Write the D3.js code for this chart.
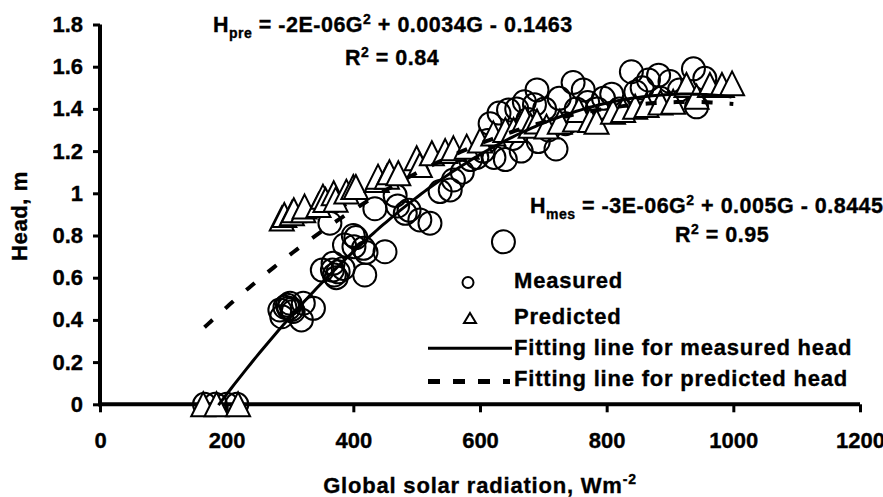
<!DOCTYPE html>
<html><head><meta charset="utf-8">
<script src="https://cdn.jsdelivr.net/npm/d3@7"></script>
<style>
body{margin:0;background:#fff}
text{font-family:"Liberation Sans",Arial,sans-serif;font-weight:bold;fill:#000;stroke:#000;stroke-width:0.35px}
</style>
</head><body><svg id="c" width="883" height="497"></svg>
<script>
// ---- data ----
const measuredRadiation=[165,182,200,216,
 284,287,292,296,298,300,303,305,318,321,337,
 351,363,367,368,370,373,376,384,386,400,401,404,416,418,420,450,
 434,466,470,482,488,505,521,537,553,558,572,585,
 595,605,612,616,622,630,637,640,645,652,658,665,670,676,686,690,692,702,708,720,725,735,747,752,763,770,785,795,808,820,839,846,856,866,882,885,900,915,937,942,955];
const measuredHead=[0,0,0,0,
 0.447,0.415,0.46,0.47,0.455,0.479,0.45,0.44,0.40,0.479,0.455,
 0.636,0.858,0.636,0.668,0.613,0.60,0.628,0.644,0.755,0.80,0.747,0.79,0.739,0.613,0.72,0.723,
 0.927,0.99,0.94,0.905,0.92,0.874,0.858,1.008,1.016,1.063,1.10,1.16,
 1.17,1.20,1.25,1.33,1.17,1.38,0.77,1.16,1.395,1.26,1.40,1.20,1.434,1.35,1.42,1.49,1.245,1.40,1.30,1.21,1.45,1.33,1.525,1.40,1.49,1.43,1.40,1.45,1.47,1.40,1.576,1.48,1.50,1.537,1.56,1.45,1.53,1.49,1.59,1.41,1.545];
const predictedRadiation=[163,184,218,
 287,291,303,306,321,323,345,352,356,369,372,389,400,404,437,439,453,457,471,500,505,524,545,558,579,600,621,640,653,671,680,690,705,726,750,756,774,784,810,826,845,863,885,905,926,942,963,982,998];
const predictedHead=[0,0,0,
 0.88,0.897,0.905,0.92,0.92,0.937,0.944,0.984,0.968,1.0,0.97,1.008,1.03,1.03,1.063,1.079,1.079,1.10,1.095,1.166,1.134,1.19,1.20,1.213,1.221,1.25,1.284,1.30,1.30,1.355,1.32,1.34,1.316,1.339,1.35,1.395,1.347,1.339,1.387,1.395,1.41,1.418,1.43,1.434,1.513,1.458,1.513,1.513,1.521];
const xTicks=[0,200,400,600,800,1000,1200];
const xTickLabels=["0","200","400","600","800","1000","1200"];
const yTicks=[0,0.2,0.4,0.6,0.8,1.0,1.2,1.4,1.6,1.8];
const yTickLabels=["0","0.2","0.4","0.6","0.8","1","1.2","1.4","1.6","1.8"];
// trend-line coefficients [a,b,c] for H = aG^2 + bG + c and the G range drawn
const fitMeasuredCoef=[-2.7e-6,0.005,-0.8445];
const fitMeasuredRange=[187,1000];
const fitPredictedCoef=[-1.83e-6,0.0034,-0.1463];
const fitPredictedRange=[165,1000];
const legendLabels=["Measured","Predicted","Fitting line for measured head","Fitting line for predicted head"];

// ---- drawing ----
const svg=d3.select("#c");
const x=d3.scaleLinear().domain([0,1200]).range([100,860]);
const y=d3.scaleLinear().domain([0,1.8]).range([404.3,24.5]);

// axes
const xAxis=d3.axisBottom(x).tickValues(xTicks).tickFormat((d,i)=>xTickLabels[i]).tickSize(8).tickSizeOuter(0).tickPadding(20);
const yAxis=d3.axisLeft(y).tickValues(yTicks).tickFormat((d,i)=>yTickLabels[i]).tickSize(7).tickSizeOuter(0).tickPadding(10);
const gx=svg.append("g").attr("transform",`translate(0,${y(0)})`).call(xAxis);
const gy=svg.append("g").attr("transform",`translate(${x(0)},0)`).call(yAxis);
[gx,gy].forEach(g=>{
  g.select(".domain").attr("stroke","#000").attr("stroke-width",4);
  g.selectAll(".tick line").attr("stroke","#000").attr("stroke-width",3);
  g.selectAll(".tick text").attr("font-size",22).attr("font-family","Liberation Sans, Arial, sans-serif")
    .attr("font-weight","bold").attr("fill","#000").attr("stroke","#000").attr("stroke-width",0.35);
});
gx.selectAll(".tick text").attr("dy",null).attr("y",null).attr("transform","translate(0,44)");
gx.select(".domain").attr("d",`M${x(0)-2},0H${x(1200)}`);
gy.select(".domain").attr("d",`M0,${y(1.8)}V${y(0)+2}`);

// measured circles
const measured=measuredRadiation.map((g,i)=>({g,h:measuredHead[i]}));
const predicted=predictedRadiation.map((g,i)=>({g,h:predictedHead[i]}));
svg.append("g").selectAll("circle").data(measured).join("circle")
  .attr("cx",d=>x(d.g)).attr("cy",d=>y(d.h)).attr("r",11.5)
  .attr("fill","none").attr("stroke","#000").attr("stroke-width",2);

// predicted triangles
const tw=24,th=24;
const triPath=(w,h)=>`M0,${-h/2}L${w/2},${h/2}L${-w/2},${h/2}Z`;
svg.append("g").selectAll("path").data(predicted).join("path")
  .attr("d",triPath(tw,th)).attr("transform",d=>`translate(${x(d.g)},${y(d.h)})`)
  .attr("fill","#fff").attr("stroke","#000").attr("stroke-width",2).attr("stroke-linejoin","miter");

// trend lines
const curve=(coef,range)=>d3.range(range[0],range[1]+0.01,5).map(g=>[g,coef[0]*g*g+coef[1]*g+coef[2]]);
const line=d3.line().x(d=>x(d[0])).y(d=>y(d[1]));
svg.append("path").attr("d",line(curve(fitMeasuredCoef,fitMeasuredRange)))
  .attr("fill","none").attr("stroke","#000").attr("stroke-width",3);
svg.append("path").attr("d",line(curve(fitPredictedCoef,fitPredictedRange)))
  .attr("fill","none").attr("stroke","#000").attr("stroke-width",4).attr("stroke-dasharray","11,17");

// equations
function equation(x0,y0,name,body,r2x,r2y,r2){
  const t=svg.append("text").attr("x",x0).attr("y",y0).attr("font-size",21.5).attr("letter-spacing",0.5);
  t.append("tspan").text("H");
  t.append("tspan").attr("dy",6).attr("font-size",14).text(name);
  t.append("tspan").attr("dy",-6).text(" = "+body[0]);
  t.append("tspan").attr("dy",-8).attr("font-size",14).text("2");
  t.append("tspan").attr("dy",8).text(body[1]);
  const r=svg.append("text").attr("x",r2x).attr("y",r2y).attr("font-size",21.5).attr("letter-spacing",0.5);
  r.append("tspan").text("R");
  r.append("tspan").attr("dy",-8).attr("font-size",14).text("2");
  r.append("tspan").attr("dy",8).text(" = "+r2);
}
equation(213,31.5,"pre",["-2E-06G"," + 0.0034G - 0.1463"],345,65,"0.84");
equation(530,213,"mes",["-3E-06G"," + 0.005G - 0.8445"],675,241.7,"0.95");

// legend
const lg=svg.append("g");
lg.append("circle").attr("cx",468).attr("cy",282.5).attr("r",5.5).attr("fill","none").attr("stroke","#000").attr("stroke-width",2);
lg.append("path").attr("d",triPath(12,10)).attr("transform","translate(470,318)").attr("fill","#fff").attr("stroke","#000").attr("stroke-width",2);
lg.append("line").attr("x1",428).attr("x2",512).attr("y1",348.3).attr("y2",348.3).attr("stroke","#000").attr("stroke-width",3);
lg.append("line").attr("x1",428).attr("x2",510).attr("y1",381.5).attr("y2",381.5).attr("stroke","#000").attr("stroke-width",5).attr("stroke-dasharray","12,13");
const lys=[288.3,323.5,354.5,385.5];
legendLabels.forEach((s,i)=>lg.append("text").attr("x",514).attr("y",lys[i]).attr("font-size",22).attr("letter-spacing",0.8).text(s));

// axis titles
svg.append("text").attr("transform","translate(27,216) rotate(-90)").attr("text-anchor","middle")
  .attr("font-size",22).attr("letter-spacing",0.6).text("Head, m");
const xt=svg.append("text").attr("x",480).attr("y",492.5).attr("text-anchor","middle").attr("font-size",22).attr("letter-spacing",0.8);
xt.append("tspan").text("Global solar radiation, Wm");
xt.append("tspan").attr("dy",-9).attr("font-size",14).text("-2");
</script></body></html>
